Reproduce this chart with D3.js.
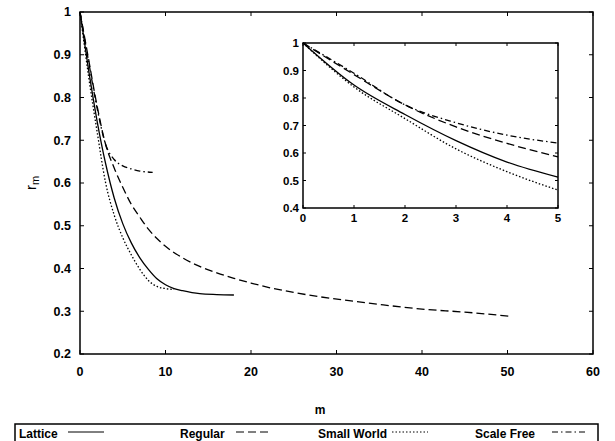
<!DOCTYPE html>
<html>
<head>
<meta charset="utf-8">
<script src="https://cdn.jsdelivr.net/npm/d3@7"></script>
<style>
  body { margin: 0; background: #fff; }
  svg { display: block; }
  text { font-family: "Liberation Sans", Arial, sans-serif; font-weight: bold; fill: #000; }
</style>
</head>
<body>
<div id="chart"></div>
<script>
// Main chart data: m vs r_m
const latticeM   = [0, 1, 2, 3, 4, 5, 6, 7, 8, 9, 10, 11, 12, 14, 16, 18];
const latticeR   = [1, 0.865, 0.745, 0.645, 0.565, 0.505, 0.46, 0.425, 0.398, 0.376, 0.362, 0.353, 0.348, 0.341, 0.339, 0.338];
const regularM   = [0, 1, 2, 3, 4, 5, 6, 7, 8, 9, 10, 12, 14, 16, 18, 20, 22, 25, 28, 31, 35, 40, 45, 50.5];
const regularR   = [1, 0.89, 0.78, 0.69, 0.635, 0.59, 0.55, 0.52, 0.492, 0.47, 0.452, 0.425, 0.405, 0.39, 0.377, 0.366, 0.356, 0.344, 0.334, 0.326, 0.316, 0.305, 0.298, 0.288];
const smallM     = [0, 1, 2, 3, 4, 5, 6, 7, 8, 9, 10, 11];
const smallR     = [1, 0.85, 0.72, 0.6, 0.525, 0.472, 0.432, 0.398, 0.372, 0.358, 0.353, 0.351];
const scaleM     = [0, 1, 2, 3, 4, 5, 6, 7, 8.5];
const scaleR     = [1, 0.885, 0.775, 0.69, 0.655, 0.64, 0.633, 0.628, 0.625];

// Inset data (m from 0 to 5)
const insetM        = [0, 1, 2, 3, 4, 5];
const insetLattice  = [1, 0.847, 0.74, 0.645, 0.567, 0.512];
const insetRegular  = [1, 0.885, 0.775, 0.695, 0.635, 0.586];
const insetSmall    = [1, 0.84, 0.725, 0.615, 0.532, 0.465];
const insetScale    = [1, 0.89, 0.775, 0.71, 0.665, 0.636];

const xTicks = [0, 10, 20, 30, 40, 50, 60];
const yTicks = [0.2, 0.3, 0.4, 0.5, 0.6, 0.7, 0.8, 0.9, 1];
const insetXTicks = [0, 1, 2, 3, 4, 5];
const insetYTicks = [0.4, 0.5, 0.6, 0.7, 0.8, 0.9, 1];

const seriesNames = ['Lattice', 'Regular', 'Small World', 'Scale Free'];
const dashes = [null, '8,4', '1.5,2', '6,3,1.5,3'];

const W = 615, H = 441;
const svg = d3.select('#chart').append('svg')
    .attr('width', W)
    .attr('height', H);

function zip(ms, rs) {
    return ms.map((m, i) => ({ m: m, r: rs[i] }));
}

function drawPanel(x, y, xt, yt, series, opts) {
    const [x0, x1] = x.range();
    const [y0, y1] = y.range();

    // frame
    svg.append('rect')
        .attr('x', x0).attr('y', y1)
        .attr('width', x1 - x0).attr('height', y0 - y1)
        .attr('fill', 'none').attr('stroke', '#000').attr('stroke-width', 1.5);

    // inward ticks on all four sides
    const tl = opts.tick;
    yt.forEach(v => {
        svg.append('line').attr('x1', x0).attr('x2', x0 + tl).attr('y1', y(v)).attr('y2', y(v)).attr('stroke', '#000');
        svg.append('line').attr('x1', x1).attr('x2', x1 - tl).attr('y1', y(v)).attr('y2', y(v)).attr('stroke', '#000');
    });
    xt.forEach(v => {
        svg.append('line').attr('x1', x(v)).attr('x2', x(v)).attr('y1', y0).attr('y2', y0 - tl).attr('stroke', '#000');
        svg.append('line').attr('x1', x(v)).attr('x2', x(v)).attr('y1', y1).attr('y2', y1 + tl).attr('stroke', '#000');
    });

    svg.append('g').selectAll('text')
        .data(yt).enter().append('text')
        .attr('x', x0 - opts.yPad)
        .attr('y', d => y(d))
        .attr('dy', '0.35em')
        .attr('text-anchor', 'end')
        .style('font-size', opts.font + 'px')
        .text(d => d);

    svg.append('g').selectAll('text')
        .data(xt).enter().append('text')
        .attr('x', d => x(d))
        .attr('y', y0 + opts.xPad)
        .attr('text-anchor', 'middle')
        .style('font-size', opts.font + 'px')
        .text(d => d);

    const line = d3.line()
        .x(d => x(d.m))
        .y(d => y(d.r))
        .curve(d3.curveMonotoneX);

    series.forEach((s, i) => {
        svg.append('path')
            .datum(s)
            .attr('d', line)
            .attr('fill', 'none')
            .attr('stroke', '#000')
            .attr('stroke-width', 1.3)
            .attr('stroke-dasharray', dashes[i]);
    });
}

// Main panel
const x = d3.scaleLinear().domain([0, 60]).range([80, 593]);
const y = d3.scaleLinear().domain([0.2, 1]).range([354, 12]);
drawPanel(x, y, xTicks, yTicks, [
    zip(latticeM, latticeR),
    zip(regularM, regularR),
    zip(smallM, smallR),
    zip(scaleM, scaleR)
], { tick: 4, yPad: 9, xPad: 22, font: 12.5 });

// Inset panel
const xi = d3.scaleLinear().domain([0, 5]).range([303, 558]);
const yi = d3.scaleLinear().domain([0.4, 1]).range([208, 43]);
svg.append('rect').attr('x', 303).attr('y', 43).attr('width', 255).attr('height', 165).attr('fill', '#fff');
drawPanel(xi, yi, insetXTicks, insetYTicks, [
    zip(insetM, insetLattice),
    zip(insetM, insetRegular),
    zip(insetM, insetSmall),
    zip(insetM, insetScale)
], { tick: 3, yPad: 4, xPad: 14, font: 11.5 });

// axis labels
svg.append('text')
    .attr('x', 320)
    .attr('y', 414)
    .attr('text-anchor', 'middle')
    .style('font-size', '12px')
    .text('m');

const yl = svg.append('text')
    .attr('transform', `translate(36, ${y(0.6)}) rotate(-90)`)
    .attr('text-anchor', 'middle')
    .style('font-size', '15px')
    .style('font-weight', 'normal');
yl.append('tspan').text('r');
yl.append('tspan').attr('dy', '0.3em').style('font-size', '11px').text('m');

// legend
const legend = svg.append('g').attr('class', 'legend');
legend.append('rect')
    .attr('x', 15).attr('y', 424)
    .attr('width', 583).attr('height', 30)
    .attr('fill', 'none').attr('stroke', '#000').attr('stroke-width', 1.5);

const legendX = [19, 180, 318, 475];
const sampleX = [68, 236, 392, 552];
seriesNames.forEach((name, i) => {
    legend.append('text')
        .attr('x', legendX[i])
        .attr('y', 438)
        .style('font-size', '12px')
        .text(name);
    legend.append('line')
        .attr('x1', sampleX[i]).attr('x2', sampleX[i] + 36)
        .attr('y1', 432).attr('y2', 432)
        .attr('stroke', '#000')
        .attr('stroke-width', 1)
        .attr('stroke-dasharray', dashes[i]);
});
</script>
</body>
</html>
